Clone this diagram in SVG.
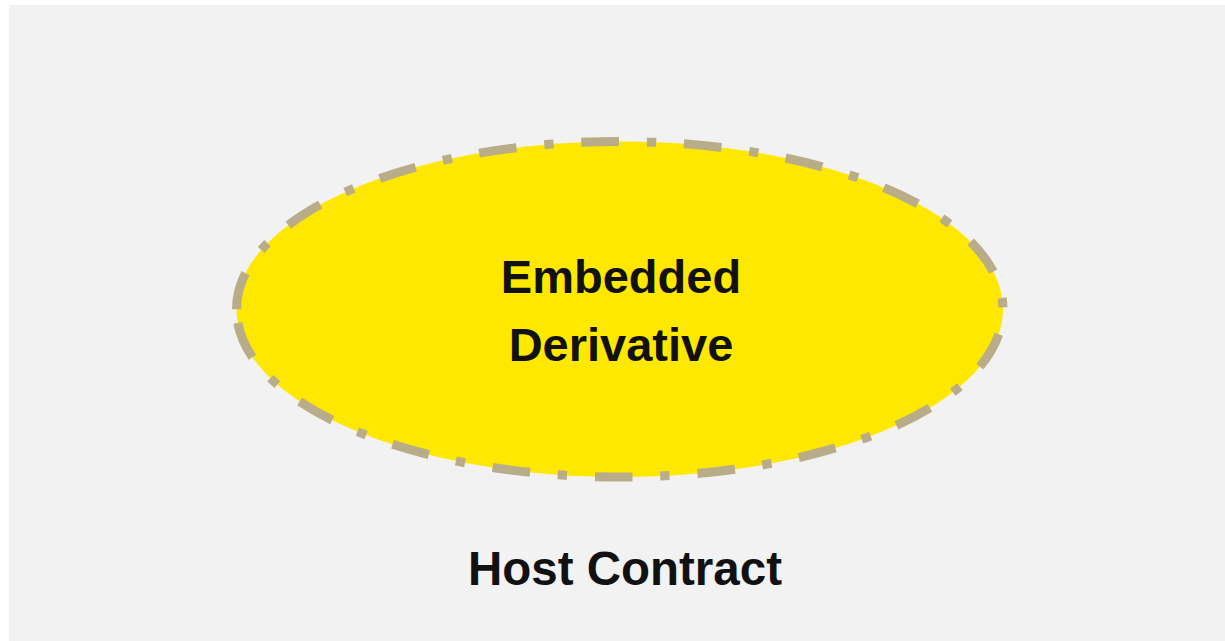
<svg xmlns="http://www.w3.org/2000/svg" width="1225" height="641" viewBox="0 0 1225 641">
  <style>
    .label { font-family: "Liberation Sans", Arial, sans-serif; font-weight: bold; font-size: 47px; fill: #111111; text-anchor: middle; }
    .title { font-size: 47.5px; }
    /* dash-dot border; path starts at the left vertex and runs clockwise */
    .outline { fill: #ffe800; stroke: #b8ad88; stroke-width: 9; stroke-dasharray: 37.7 28 9.3 27.7; }
  </style>
  <!-- page background -->
  <rect x="9" y="5" width="1216" height="636" fill="#f2f2f2"/>

  <g id="host-contract">
    <text class="label title" x="625" y="585">Host Contract</text>
  </g>

  <g id="embedded-derivative">
    <path class="outline" pathLength="1797.25"
          d="M 236.5 309.25 A 383.25 167.75 0 0 1 1003 309.25 A 383.25 167.75 0 0 1 236.5 309.25 Z"/>
    <text class="label" x="621" y="293">Embedded</text>
    <text class="label" x="621" y="360.5">Derivative</text>
  </g>

  <g id="connectors"/>
</svg>
